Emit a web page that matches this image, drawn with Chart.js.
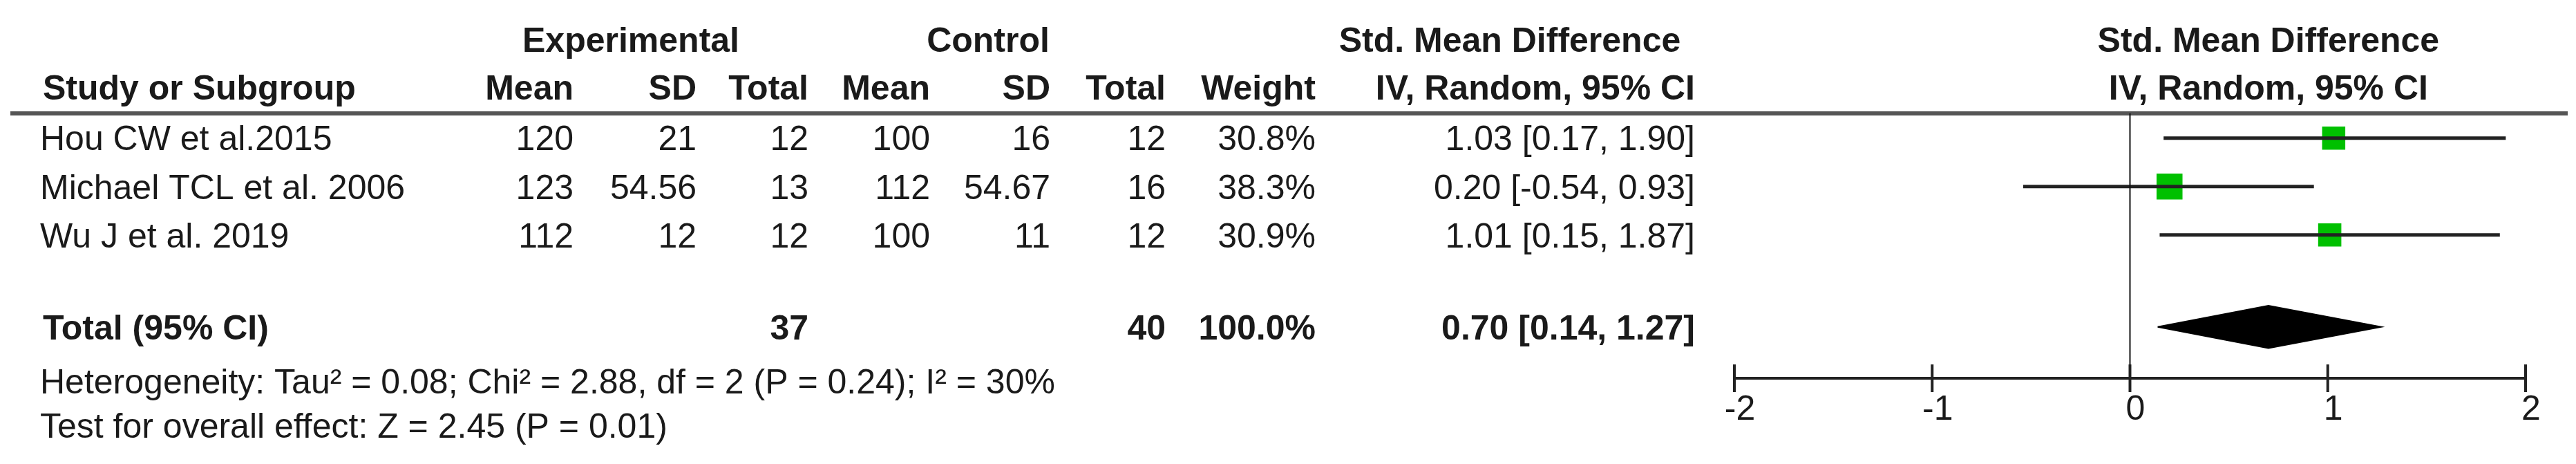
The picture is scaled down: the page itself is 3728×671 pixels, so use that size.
<!DOCTYPE html>
<html><head><meta charset="utf-8">
<script src="https://cdn.jsdelivr.net/npm/chart.js@4/dist/chart.umd.min.js"></script>
<style>html,body{margin:0;padding:0;background:#fff}#wrap{width:3728px;height:671px}</style>
</head><body><div id="wrap"><canvas id="c" width="3728" height="671"></canvas></div>
<script>
const studies = ["Hou CW et al.2015", "Michael TCL et al. 2006", "Wu J et al. 2019"];
const expMean = ["120", "123", "112"];
const expSD = ["21", "54.56", "12"];
const expTotal = ["12", "13", "12"];
const ctlMean = ["100", "112", "100"];
const ctlSD = ["16", "54.67", "11"];
const ctlTotal = ["12", "16", "12"];
const weights = [30.8, 38.3, 30.9];
const smd = [1.03, 0.20, 1.01];
const ciLow = [0.17, -0.54, 0.15];
const ciHigh = [1.90, 0.93, 1.87];
const rowPos = [1, 2, 3];
const total = {pos: 4.9, exp: "37", ctl: "40", weight: "100.0%", est: 0.70, lo: 0.14, hi: 1.27};
const xTicks = [-2, -1, 0, 1, 2];
const heterogeneity = "Heterogeneity: Tau² = 0.08; Chi² = 2.88, df = 2 (P = 0.24); I² = 30%";
const overall = "Test for overall effect: Z = 2.45 (P = 0.01)";

const FONT = '"Liberation Sans Narrow", "Arial Narrow", "Liberation Sans", Arial, sans-serif';
const datasets = [];
studies.forEach((s, i) => {
  datasets.push({type:'line', data:[{x:ciLow[i], y:rowPos[i]}, {x:ciHigh[i], y:rowPos[i]}],
    borderColor:'#222', borderWidth:5, pointRadius:0});
});
datasets.push({type:'scatter', data: smd.map((v,i)=>({x:v, y:rowPos[i]})),
  pointStyle:'rect', pointRadius: weights.map(w => 12 + w*0.38), backgroundColor:'#00c000', borderWidth:0});
datasets.push({type:'line', data:[{x:total.lo,y:total.pos},{x:total.est,y:total.pos-0.44},{x:total.hi,y:total.pos},{x:total.est,y:total.pos+0.44},{x:total.lo,y:total.pos}],
  borderColor:'#000', backgroundColor:'#000', fill:'shape', borderWidth:2, pointRadius:0, tension:0});

const textPlugin = {
  id:'forestText',
  afterDraw(chart){
    const ctx = chart.ctx, xs = chart.scales.x, ys = chart.scales.y;
    const ca = chart.chartArea;
    ctx.save();
    ctx.fillStyle = '#1a1a1a';
    ctx.textBaseline = 'middle';
    const t = (s, x, y, align, bold) => { ctx.font = (bold?'bold ':'') + '50px ' + FONT; ctx.textAlign = align; ctx.fillText(s, x, y); };
    t('Experimental', 913, 61, 'center', true);
    t('Control', 1430, 61, 'center', true);
    t('Std. Mean Difference', 2185, 61, 'center', true);
    t('Std. Mean Difference', xs.getPixelForValue(0.7), 61, 'center', true);
    const hy = 130;
    t('Study or Subgroup', 62, hy, 'left', true);
    t('Mean', 830, hy, 'right', true); t('SD', 1008, hy, 'right', true); t('Total', 1170, hy, 'right', true);
    t('Mean', 1346, hy, 'right', true); t('SD', 1520, hy, 'right', true); t('Total', 1687, hy, 'right', true);
    t('Weight', 1904, hy, 'right', true);
    t('IV, Random, 95% CI', 2453, hy, 'right', true);
    t('IV, Random, 95% CI', xs.getPixelForValue(0.7), hy, 'center', true);
    ctx.strokeStyle = '#555'; ctx.lineWidth = 6;
    ctx.beginPath(); ctx.moveTo(15, 164); ctx.lineTo(3716, 164); ctx.stroke();
    studies.forEach((s, i) => {
      const y = ys.getPixelForValue(rowPos[i]) + 4;
      t(s, 58, y, 'left'); t(expMean[i], 830, y, 'right'); t(expSD[i], 1008, y, 'right'); t(expTotal[i], 1170, y, 'right');
      t(ctlMean[i], 1346, y, 'right'); t(ctlSD[i], 1520, y, 'right'); t(ctlTotal[i], 1687, y, 'right');
      t(weights[i].toFixed(1) + '%', 1904, y, 'right');
      t(smd[i].toFixed(2) + ' [' + ciLow[i].toFixed(2) + ', ' + ciHigh[i].toFixed(2) + ']', 2453, y, 'right');
    });
    const ty = ys.getPixelForValue(total.pos) + 4;
    t('Total (95% CI)', 62, ty, 'left', true); t(total.exp, 1170, ty, 'right', true); t(total.ctl, 1687, ty, 'right', true);
    t(total.weight, 1904, ty, 'right', true);
    t(total.est.toFixed(2) + ' [' + total.lo.toFixed(2) + ', ' + total.hi.toFixed(2) + ']', 2453, ty, 'right', true);
    t(heterogeneity, 58, 555, 'left'); t(overall, 58, 619, 'left');
    ctx.strokeStyle = '#111'; ctx.lineWidth = 2;
    const x0 = xs.getPixelForValue(0);
    ctx.beginPath(); ctx.moveTo(x0, 164); ctx.lineTo(x0, ca.bottom); ctx.stroke();
    ctx.strokeStyle = '#222'; ctx.lineWidth = 4;
    ctx.beginPath(); ctx.moveTo(xs.getPixelForValue(xTicks[0]), ca.bottom); ctx.lineTo(xs.getPixelForValue(xTicks[xTicks.length-1]), ca.bottom); ctx.stroke();
    xTicks.forEach(v => {
      const x = xs.getPixelForValue(v);
      ctx.beginPath(); ctx.moveTo(x, ca.bottom - 20); ctx.lineTo(x, ca.bottom + 20); ctx.stroke();
      t(String(v), x + 8, 593, 'center');
    });
    ctx.restore();
  }
};

new Chart(document.getElementById('c'), {
  data:{datasets},
  options:{
    responsive:false, animation:false,
    layout:{padding:{left:2510, right:73, top:164, bottom:124}},
    plugins:{legend:{display:false}, tooltip:{enabled:false}},
    scales:{
      x:{type:'linear', min:-2, max:2, display:false},
      y:{type:'linear', min:0.49, max:5.96, reverse:true, display:false}
    }
  },
  plugins:[textPlugin]
});
</script></body></html>
